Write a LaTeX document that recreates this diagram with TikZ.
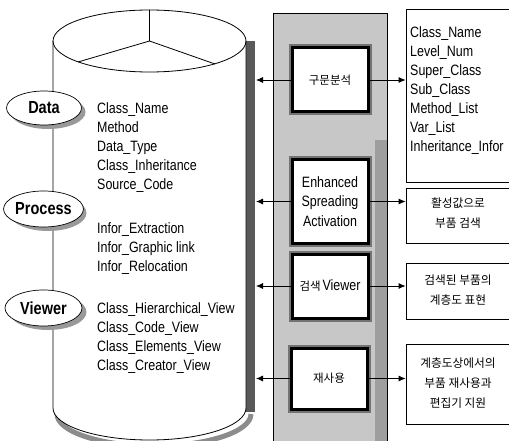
\documentclass[tikz,border=0pt]{standalone}
\usepackage{fontspec}
\setmainfont{Liberation Sans}[FakeStretch=0.83]
\newfontfamily\kr{Noto Sans CJK KR}
\usetikzlibrary{shapes.geometric,arrows.meta,calc}
\begin{document}
\begin{tikzpicture}[x=1pt,y=-1pt,
  lbl/.style={ellipse, draw, line width=0.7pt, fill=white, minimum width=75pt, minimum height=34pt, inner sep=0pt, font=\fontsize{17.5}{19}\selectfont\bfseries},
  lst/.style={anchor=north west, align=left, inner sep=0pt, font=\fontsize{15}{19}\selectfont},
  mbox/.style={draw, line width=3pt, fill=white, minimum width=76pt, align=center, inner sep=0pt, font=\fontsize{15}{19.5}\selectfont},
  rbox/.style={draw, line width=0.8pt, fill=white, minimum width=109pt, inner sep=0pt},
  krt/.style={align=center, inner sep=0pt, font=\kr\fontsize{11.7}{20}\selectfont},
  arr/.style={-{Latex[length=7pt,width=6pt]}, line width=0.8pt},
  halo/.style={draw=black!55, line width=7pt},
]
\useasboundingbox (0,0) rectangle (509,441);

% middle textured panel
\fill[black!22] (273,13) rectangle (387,445);
\fill[black!38] (375,140) rectangle (387,445);
\draw[line width=0.6pt] (273,445) -- (273,13) -- (387,13) -- (387,445);

% cylinder
\fill[black!65] (246,41) rectangle (255,412);
\draw[black!45, line width=5pt] (57,414) arc[start angle=180, end angle=0, x radius=97, y radius=32];
\draw[line width=0.8pt, fill=white] (53,41) -- (53,408) arc[start angle=180, end angle=0, x radius=96.5, y radius=32] -- (246,41);
\draw[line width=0.8pt] (149.5,41) ellipse[x radius=96.5, y radius=31];
\draw[line width=0.8pt] (149.5,10) -- (149.5,41) -- (78,62);
\draw[line width=0.8pt] (149.5,41) -- (215,64);

% label ellipses with shadows
\fill[black!40] (48,112) ellipse[x radius=37.5, y radius=17];
\fill[black!40] (48,213) ellipse[x radius=38.5, y radius=18];
\fill[black!40] (48,312) ellipse[x radius=38.5, y radius=18];
\node[lbl] (data) at (44,108) {Data};
\node[lbl, minimum width=77pt, minimum height=36pt] (proc) at (43.5,209) {Process};
\node[lbl, minimum width=77pt, minimum height=36pt] (view) at (43.5,308) {Viewer};

% lists inside cylinder
\node[lst] (dlist) at (97,102.5) {Class\_Name\\Method\\Data\_Type\\Class\_Inheritance\\Source\_Code};
\node[lst] (plist) at (97,222.5) {Infor\_Extraction\\Infor\_Graphic link\\Infor\_Relocation};
\node[lst] (vlist) at (97,302.5) {Class\_Hierarchical\_View\\Class\_Code\_View\\Class\_Elements\_View\\Class\_Creator\_View};

% middle boxes (halo then box)
\draw[halo] (292,48) rectangle (368,112);
\draw[halo] (292,160) rectangle (368,243);
\draw[halo] (292,254) rectangle (368,318);
\draw[halo] (291,348) rectangle (367,409);
\node[mbox, minimum height=64pt] (m1) at (330,80) {\kr\fontsize{11.5}{14}\selectfont 구문분석};
\node[mbox, minimum height=83pt] (m2) at (330,201.5) {Enhanced\\Spreading\\Activation};
\node[mbox, minimum height=64pt] (m3) at (330,286) {\kr\fontsize{11.5}{14}\selectfont 검색\,\rmfamily\fontsize{15}{16}\selectfont Viewer};
\node[mbox, minimum height=61pt] (m4) at (329,378.5) {\kr\fontsize{11.5}{14}\selectfont 재사용};

% right boxes
\node[rbox, minimum height=173pt] (r1) at (460.5,95.5) {};
\node[rbox, minimum height=55pt] (r2) at (460.5,215.5) {};
\node[rbox, minimum height=56pt] (r3) at (460.5,291) {};
\node[rbox, minimum height=80pt] (r4) at (460.5,384) {};
\node[lst] (r1t) at (410,26.5) {Class\_Name\\Level\_Num\\Super\_Class\\Sub\_Class\\Method\_List\\Var\_List\\Inheritance\_Infor};
\node[krt] (r2t) at (458,213) {활성값으로\\부품 검색};
\node[krt] (r3t) at (458,290) {검색된 부품의\\계층도 표현};
\node[krt] (r4t) at (458,383) {계층도상에서의\\부품 재사용과\\편집기 지원};

% connectors
\coordinate (cyl) at (256,0);
\draw[arr] (m1) -- (m1 -| cyl);
\draw[arr] (m2) -- (m2 -| cyl);
\draw[arr] (m3) -- (m3 -| cyl);
\draw[arr] (m4) -- (m4 -| cyl);
\draw[arr] (m1) -- (m1 -| r1.west);
\draw[arr] (m2) -- (m2 -| r2.west);
\draw[arr] (m3) -- (m3 -| r3.west);
\draw[arr] (m4) -- (m4 -| r4.west);
\end{tikzpicture}
\end{document}
